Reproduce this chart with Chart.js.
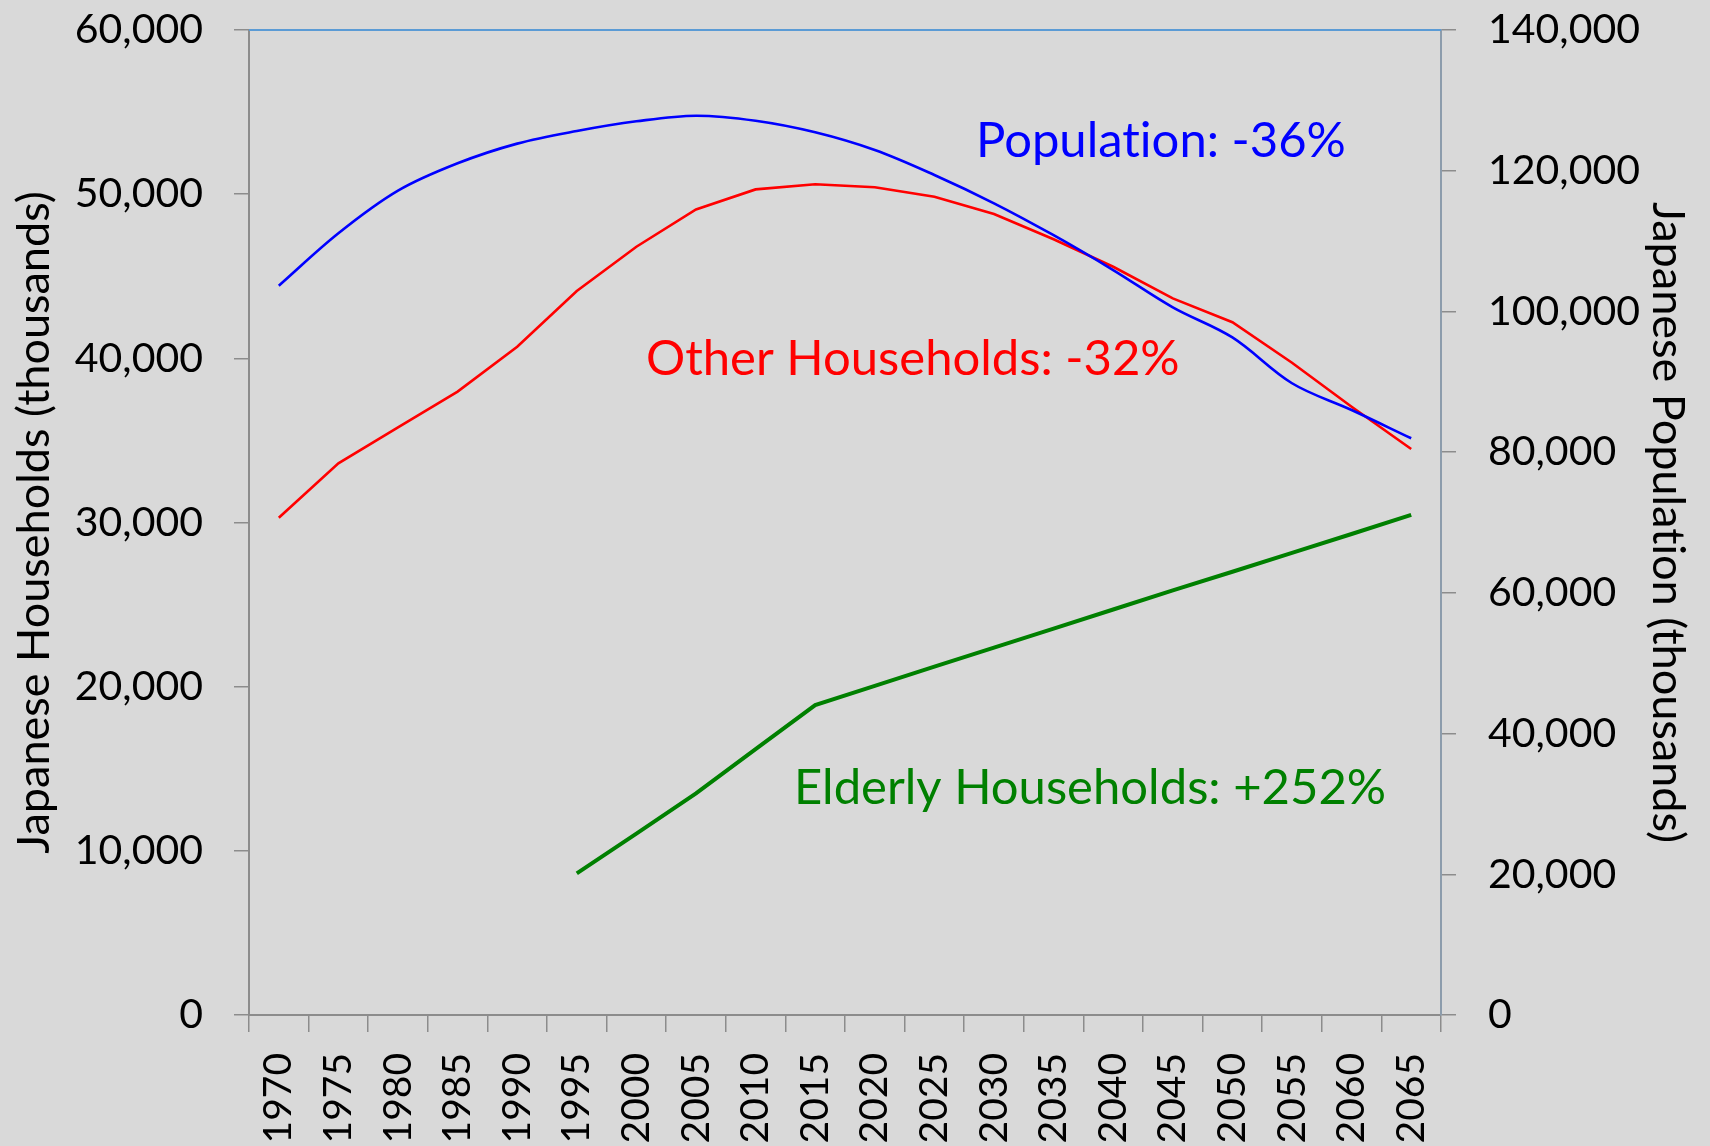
<!DOCTYPE html>
<html>
<head>
<meta charset="utf-8">
<script src="https://cdn.jsdelivr.net/npm/chart.js@4/dist/chart.umd.min.js"></script>
<style>
  html, body { margin: 0; padding: 0; background: #d9d9d9; }
  #wrap { width: 1710px; height: 1146px; position: relative; }
  canvas { display: block; background: #d9d9d9; }
</style>
</head>
<body>
<div id="wrap"><canvas id="c" width="1710" height="1146"></canvas></div>
<script>
const years = ['1970','1975','1980','1985','1990','1995','2000','2005','2010','2015','2020','2025','2030','2035','2040','2045','2050','2055','2060','2065'];
const population = [103650, 111100, 117160, 121050, 123850, 125640, 127020, 127820, 127100, 125460, 122940, 119390, 115370, 110830, 105880, 100580, 96300, 89790, 85990, 81970];
const otherHouseholds = [30290, 33600, 35800, 37970, 40710, 44100, 46800, 49070, 50290, 50600, 50420, 49840, 48790, 47250, 45580, 43650, 42200, 39730, 37050, 34480];
const elderlyHouseholds = [null, null, null, null, null, 8630, 11050, 13500, 16190, 18880, 20050, 21220, 22380, 23540, 24700, 25860, 27000, 28150, 29300, 30460];
const leftTicks = [0, 10000, 20000, 30000, 40000, 50000, 60000];
const rightTicks = [0, 20000, 40000, 60000, 80000, 100000, 120000, 140000];
const annotationTexts = ['Population: -36%', 'Other Households: -32%', 'Elderly Households: +252%'];
const annotationColors = ['#0000ff', '#ff0000', '#008000'];
const leftTitle = 'Japanese Households (thousands)';
const rightTitle = 'Japanese Population (thousands)';

const FONT = 'Lato, "Open Sans", sans-serif';
const fmt = v => Number(v).toLocaleString('en-US');

const noLigaturePlugin = {
  id: 'noLig',
  beforeDraw(chart) { chart.ctx.textRendering = 'optimizeSpeed'; }
};

const annotationPlugin = {
  id: 'annot',
  afterDatasetsDraw(chart) {
    const ctx = chart.ctx;
    const pos = [[976, 157], [646, 375], [794, 804]];
    ctx.save();
    ctx.textRendering = 'optimizeSpeed';
    ctx.font = '49px ' + FONT;
    ctx.textAlign = 'left';
    ctx.textBaseline = 'alphabetic';
    annotationTexts.forEach((t, i) => {
      ctx.fillStyle = annotationColors[i];
      ctx.fillText(t, pos[i][0], pos[i][1]);
    });
    ctx.restore();
  }
};

const topBorderPlugin = {
  id: 'topBorder',
  beforeDatasetsDraw(chart) {
    const {ctx, chartArea: a} = chart;
    ctx.save();
    ctx.strokeStyle = '#5b9bd5';
    ctx.lineWidth = 2;
    ctx.beginPath();
    ctx.moveTo(a.left, a.top);
    ctx.lineTo(a.right, a.top);
    ctx.stroke();
    ctx.restore();
  }
};

new Chart(document.getElementById('c'), {
  type: 'line',
  data: {
    labels: years,
    datasets: [
      { label: 'Population', data: population, yAxisID: 'y1', borderColor: '#0000ff', borderWidth: 2.6, pointRadius: 0, tension: 0.35, fill: false },
      { label: 'Other Households', data: otherHouseholds, yAxisID: 'y', borderColor: '#ff0000', borderWidth: 2.6, pointRadius: 0, tension: 0, fill: false },
      { label: 'Elderly Households', data: elderlyHouseholds, yAxisID: 'y', borderColor: '#008000', borderWidth: 4, pointRadius: 0, tension: 0, fill: false }
    ]
  },
  options: {
    responsive: false,
    animation: false,
    layout: { padding: { top: 30, right: 0, left: 0, bottom: 0 } },
    plugins: { legend: { display: false }, tooltip: { enabled: false } },
    scales: {
      x: {
        type: 'category',
        offset: true,
        grid: { offset: true, drawOnChartArea: false, drawTicks: true, tickLength: 17, color: '#8c8c8c', lineWidth: 1.5 },
        border: { display: true, color: '#8c8c8c', width: 2 },
        ticks: { autoSkip: false, minRotation: 90, maxRotation: 90, padding: 21, color: '#000', font: { family: FONT, size: 39 } },
        afterFit(s) { s.height = 131; s.paddingLeft = 0; s.paddingRight = 0; }
      },
      y: {
        position: 'left',
        min: 0, max: 60000,
        afterBuildTicks(s) { s.ticks = leftTicks.map(v => ({ value: v })); },
        grid: { drawOnChartArea: false, drawTicks: true, tickLength: 15, color: '#8c8c8c', lineWidth: 1.5 },
        border: { display: true, color: '#8c8c8c', width: 2 },
        ticks: { padding: 31, color: '#000', font: { family: FONT, size: 41 }, callback: v => fmt(v) },
        title: { display: true, text: leftTitle, color: '#000', font: { family: FONT, size: 45, lineHeight: 1 }, padding: { top: 12, bottom: 0 } },
        afterFit(s) { s.width = 249; s.paddingTop = 0; s.paddingBottom = 0; }
      },
      y1: {
        position: 'right',
        min: 0, max: 140000,
        afterBuildTicks(s) { s.ticks = rightTicks.map(v => ({ value: v })); },
        grid: { drawOnChartArea: false, drawTicks: true, tickLength: 15, color: '#8c8c8c', lineWidth: 1.5 },
        border: { display: true, color: '#8c9cac', width: 2 },
        ticks: { padding: 32, color: '#000', font: { family: FONT, size: 41 }, callback: v => fmt(v) },
        title: { display: true, text: rightTitle, color: '#000', font: { family: FONT, size: 45, lineHeight: 1 }, padding: { top: 20, bottom: 0 } },
        afterFit(s) { s.width = 269; s.paddingTop = 0; s.paddingBottom = 0; }
      }
    }
  },
  plugins: [noLigaturePlugin, topBorderPlugin, annotationPlugin]
});
</script>
</body>
</html>
